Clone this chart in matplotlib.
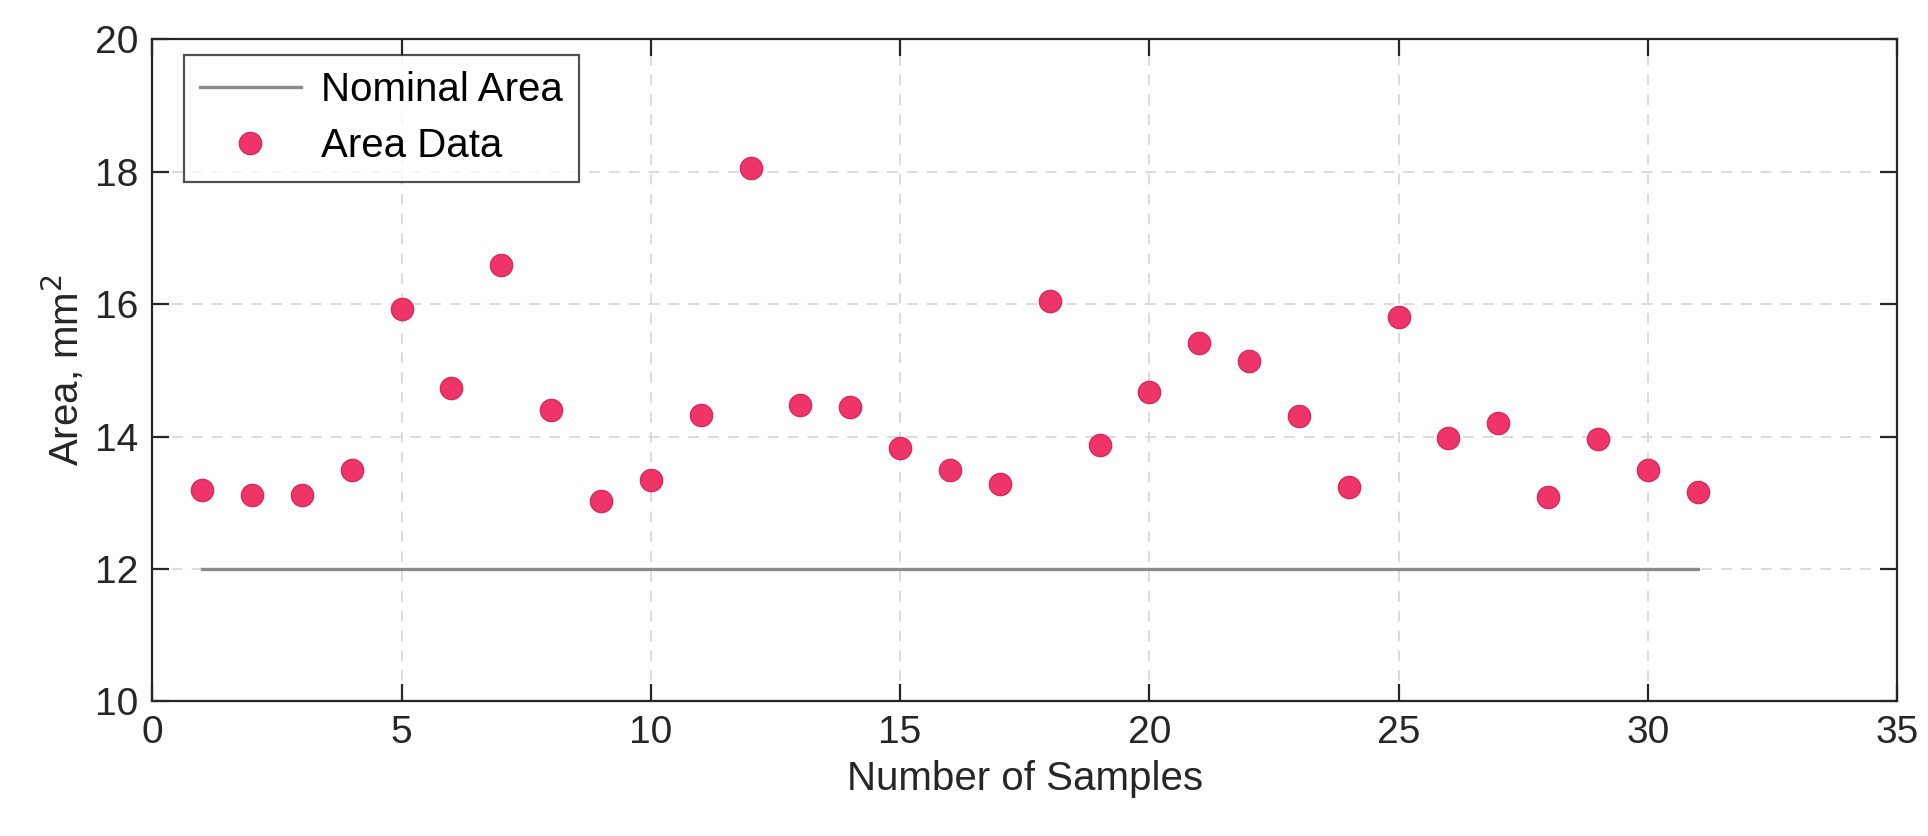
import matplotlib.pyplot as plt

plt.rcParams['font.family'] = ['Liberation Sans', 'DejaVu Sans']

# sample numbers and measured areas (mm^2)
samples = list(range(1, 32))
area = [13.20, 13.12, 13.12, 13.50, 15.93, 14.73, 16.59, 14.40, 13.03, 13.34,
        14.32, 18.06, 14.48, 14.44, 13.82, 13.49, 13.29, 16.04, 13.87, 14.68,
        15.42, 15.14, 14.31, 13.24, 15.80, 13.98, 14.21, 13.08, 13.97, 13.49,
        13.16]
nominal = [12] * len(samples)

x_ticks = [0, 5, 10, 15, 20, 25, 30, 35]
y_ticks = [10, 12, 14, 16, 18, 20]

fig = plt.figure(figsize=(19.28, 8.36), dpi=100)
ax = fig.add_axes([0.079, 0.161, 0.905, 0.792])

ax.plot(samples, nominal, color='#8c8c8c', linewidth=2.4, label='Nominal Area', zorder=3)
ax.plot(samples, area, linestyle='none', marker='o', markersize=16,
        markerfacecolor='#EE3468', markeredgecolor='#D92A5A', markeredgewidth=1.0,
        label='Area Data', zorder=4)

ax.set_xlim(0, 35)
ax.set_ylim(10, 20)
ax.set_xticks(x_ticks)
ax.set_yticks(y_ticks)
ax.grid(True, linestyle=(0, (6, 5)), color='#d9d9d9', linewidth=1.3)
ax.set_axisbelow(True)

ax.tick_params(direction='in', length=12, width=1.6, top=True, right=True,
               labelsize=28, colors='#262626', pad=10)
for s in ax.spines.values():
    s.set_color('#262626')
    s.set_linewidth(1.6)

ax.set_xlabel('Number of Samples', fontsize=29, color='#262626', labelpad=6)
ax.set_ylabel('Area, mm$^2$', fontsize=29, color='#262626', labelpad=6)

leg = ax.legend(loc='upper left', bbox_to_anchor=(0.018, 0.976), fontsize=29,
                frameon=True, fancybox=False, edgecolor='#262626',
                handlelength=2.5, borderpad=0.4, labelspacing=0.45,
                handletextpad=0.5, borderaxespad=0)
leg.get_frame().set_linewidth(1.6)
for t in leg.get_texts():
    t.set_color('#000000')

fig.savefig('out.png', dpi=100)
